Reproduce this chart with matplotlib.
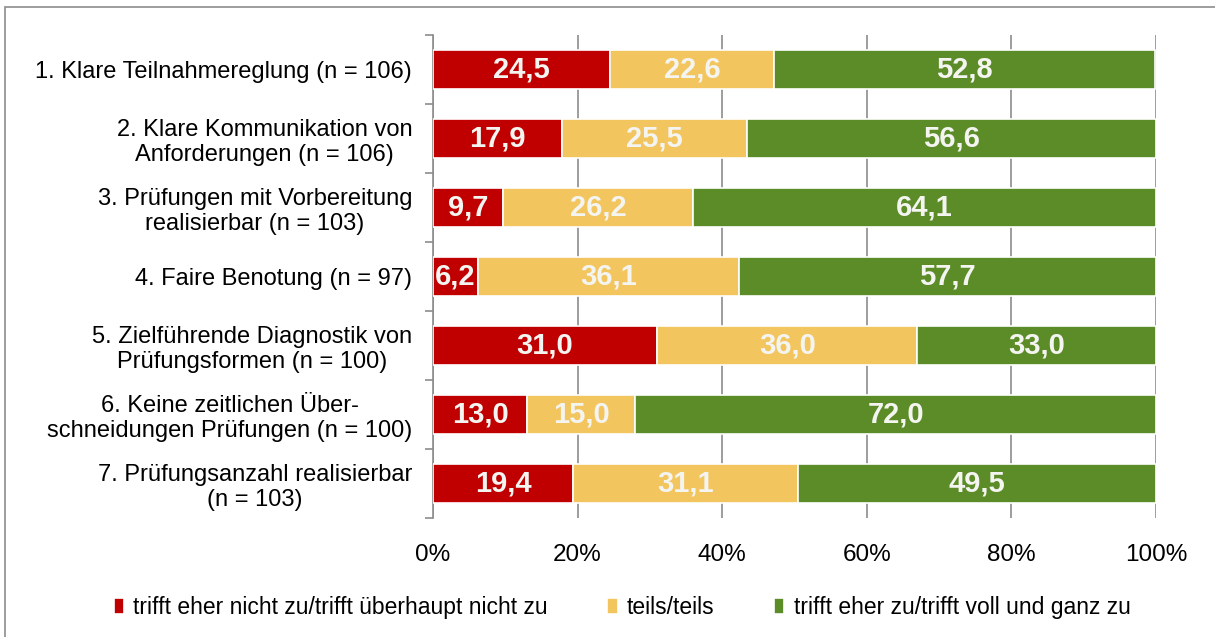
import numpy as np
import matplotlib.pyplot as plt
from matplotlib.patches import Rectangle

plt.rcParams['font.family'] = ['Liberation Sans', 'DejaVu Sans']

labels = ['1. Klare Teilnahmereglung (n = 106)',
          '2. Klare Kommunikation von\nAnforderungen (n = 106)',
          '3. Prüfungen mit Vorbereitung\nrealisierbar (n = 103)',
          '4. Faire Benotung (n = 97)',
          '5. Zielführende Diagnostik von\nPrüfungsformen (n = 100)',
          '6. Keine zeitlichen Über-\nschneidungen Prüfungen (n = 100)',
          '7. Prüfungsanzahl realisierbar\n(n = 103)']
nicht_zu = [24.5, 17.9, 9.7, 6.2, 31.0, 13.0, 19.4]
teils = [22.6, 25.5, 26.2, 36.1, 36.0, 15.0, 31.1]
zu = [52.8, 56.6, 64.1, 57.7, 33.0, 72.0, 49.5]
series_names = ['trifft eher nicht zu/trifft überhaupt nicht zu', 'teils/teils',
                'trifft eher zu/trifft voll und ganz zu']
colors = ['#C00000', '#F2C55F', '#5B8C28']

fig = plt.figure(figsize=(12.15, 6.37), dpi=100)
ax = fig.add_axes([0.3564, 0.1868, 0.5950, 0.7582])

# outer frame
fig.patches.append(Rectangle((0.004, -0.1), 1.2, 1.089, transform=fig.transFigure,
                             fill=False, edgecolor='#8C8C8C', linewidth=1.2))

y = np.arange(len(labels))
left = np.zeros(len(labels))
for vals, col, name in zip([nicht_zu, teils, zu], colors, series_names):
    vals = np.array(vals)
    ax.barh(y, vals, left=left, height=0.57, color=col, edgecolor='white',
            linewidth=1.2, label=name, zorder=3)
    for yi, l, v in zip(y, left, vals):
        ax.text(l + v / 2, yi, ('%.1f' % v).replace('.', ','), ha='center', va='center',
                color='#F4F4F0', fontsize=21, fontweight='bold', zorder=4)
    left += vals

ax.set_xlim(0, 100)
ax.set_ylim(len(labels) - 0.5, -0.5)
ax.set_xticks(np.arange(0, 101, 20))
ax.set_xticklabels(['%d%%' % v for v in range(0, 101, 20)], fontsize=17.5)
ax.xaxis.grid(True, color='#8C8C8C', linewidth=1.2, zorder=0)
ax.tick_params(axis='x', length=0, pad=19)

ax.set_yticks(y)
ax.set_yticklabels(labels, fontsize=17)
ax.set_yticks(np.arange(len(labels) + 1) - 0.5, minor=True)
ax.tick_params(axis='y', which='major', length=0, pad=15)
ax.tick_params(axis='y', which='minor', length=6, direction='out', color='#8C8C8C', width=1.2)
for lab in ax.get_yticklabels():
    lab.set_multialignment('center')

for s in ['top', 'right', 'bottom']:
    ax.spines[s].set_visible(False)
ax.spines['left'].set_color('#8C8C8C')
ax.spines['left'].set_linewidth(1.2)

fig.legend(loc='center', bbox_to_anchor=(0.512, 0.047), ncol=3, frameon=False,
           fontsize=16.5, handlelength=0.45, handleheight=0.7, handletextpad=0.4,
           columnspacing=2.6)

fig.savefig('out.png', dpi=100)
